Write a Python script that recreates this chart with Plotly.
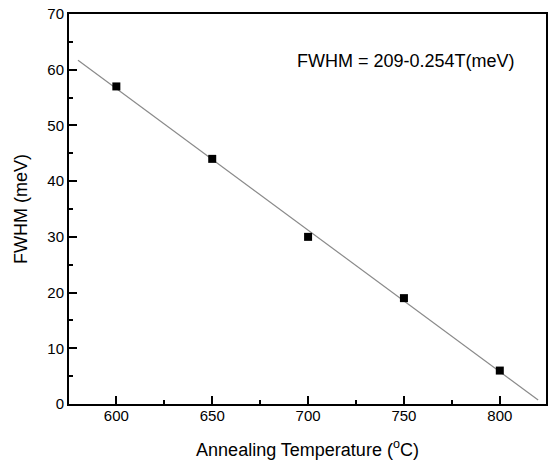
import plotly.graph_objects as go

# Measured data
temperature = [600, 650, 700, 750, 800]
fwhm = [57, 44, 30, 19, 6]

# Linear fit line endpoints (FWHM = 209 - 0.254 T)
fit_temperature = [580, 820]
fit_fwhm = [61.7, 0.7]

x_ticks = [600, 650, 700, 750, 800]
y_ticks = [0, 10, 20, 30, 40, 50, 60, 70]

equation_text = "FWHM = 209-0.254T(meV)"
x_title = "Annealing Temperature (<sup>o</sup>C)"
y_title = "FWHM (meV)"

FONT = "Arial, Liberation Sans, sans-serif"

fig = go.Figure()
fig.add_trace(go.Scatter(
    x=fit_temperature, y=fit_fwhm, mode="lines",
    line=dict(color="#8a8a8a", width=1.2), showlegend=False, hoverinfo="skip"))
fig.add_trace(go.Scatter(
    x=temperature, y=fwhm, mode="markers",
    marker=dict(symbol="square", size=8, color="black"), showlegend=False))

fig.add_annotation(
    x=751, y=61.5, xref="x", yref="y", text=equation_text, showarrow=False,
    xanchor="center", yanchor="middle",
    font=dict(family=FONT, size=18, color="black"))

axis_common = dict(
    showline=True, linecolor="black", linewidth=2, mirror=True,
    ticks="inside", ticklen=8, tickwidth=2, tickcolor="black",
    showgrid=False, zeroline=False,
    tickfont=dict(family=FONT, size=15, color="black"),
)

fig.update_xaxes(
    range=[575.3, 824.1], tickvals=x_ticks,
    ticktext=[str(v) for v in x_ticks],
    minor=dict(dtick=25, tick0=600, ticks="inside", ticklen=4, tickwidth=2, tickcolor="black", showgrid=False),
    title=dict(text=x_title, font=dict(family=FONT, size=18, color="black"), standoff=20),
    ticklabelstandoff=-3,
    **axis_common)
fig.update_yaxes(
    range=[0, 70], tickvals=y_ticks,
    ticktext=[str(v) for v in y_ticks],
    minor=dict(dtick=5, tick0=0, ticks="inside", ticklen=4, tickwidth=2, tickcolor="black", showgrid=False),
    title=dict(text=y_title, font=dict(family=FONT, size=18, color="black"), standoff=15),
    **axis_common)

fig.update_layout(
    width=551, height=464,
    margin=dict(l=69, r=3, t=14, b=60),
    plot_bgcolor="white", paper_bgcolor="white",
    font=dict(family=FONT, color="black"),
)

fig.write_html("out.html", config={"displayModeBar": False},
               post_script="document.body.style.margin='0';document.body.style.overflow='hidden';")
